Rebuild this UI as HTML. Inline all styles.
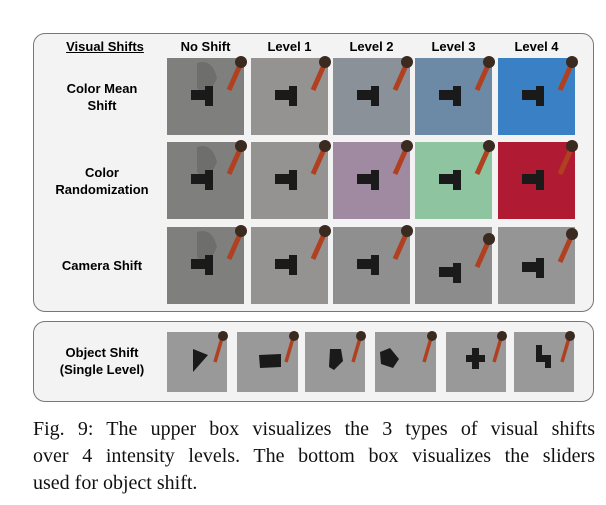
<!DOCTYPE html>
<html><head><style>
body{margin:0;width:606px;height:505px;background:#fff;position:relative;overflow:hidden;font-family:"Liberation Sans",sans-serif}
.box{position:absolute;border:1.5px solid #777;border-radius:12px;background:#f3f3f3}
.lbl{position:absolute;font-weight:bold;font-size:13px;text-align:center;color:#000;line-height:17px}
.cap{position:absolute;left:33px;font-family:"Liberation Serif",serif;font-size:20px;color:#111;line-height:27px;width:562px}
.cap div{text-align:justify;text-align-last:justify;white-space:nowrap}
.cap div.l{text-align-last:left}
</style></head><body>
<div class="box" style="left:33px;top:33px;width:559px;height:277px"></div>
<div class="box" style="left:33px;top:321px;width:559px;height:79px"></div>
<div class="lbl" style="left:50px;top:38px;width:110px;text-decoration:underline">Visual Shifts</div>
<div class="lbl" style="left:167px;top:38px;width:77px">No Shift</div>
<div class="lbl" style="left:251px;top:38px;width:77px">Level 1</div>
<div class="lbl" style="left:333px;top:38px;width:77px">Level 2</div>
<div class="lbl" style="left:415px;top:38px;width:77px">Level 3</div>
<div class="lbl" style="left:498px;top:38px;width:77px">Level 4</div>
<div class="lbl" style="left:40px;top:80px;width:124px">Color Mean<br>Shift</div>
<div class="lbl" style="left:40px;top:164px;width:124px">Color<br>Randomization</div>
<div class="lbl" style="left:40px;top:257px;width:124px">Camera Shift</div>
<div class="lbl" style="left:40px;top:344px;width:124px">Object Shift<br>(Single Level)</div>
<svg width="606" height="505" style="position:absolute;left:0;top:0">
<defs>
<g id="t"><rect x="24" y="32" width="18" height="10" fill="#1a1a1a"/><rect x="38" y="28" width="8" height="20" fill="#1a1a1a"/><line x1="62" y1="32" x2="74" y2="5" stroke="#b04020" stroke-width="5"/><circle cx="74" cy="4" r="6" fill="#3a2a20"/></g>
<g id="ts"><path d="M30 5 Q45 0 50 20 L40 40 L30 30 Z" fill="#555" opacity=".4"/></g>
<g id="s"><line x1="48" y1="30" x2="55" y2="6" stroke="#b04020" stroke-width="3.5"/><circle cx="56" cy="4" r="5" fill="#3a2a20"/></g>
</defs>
<rect x="167" y="58" width="77" height="77" fill="#7f7f7d"/><use href="#ts" x="167" y="58"/><use href="#t" x="167" y="58"/>
<rect x="251" y="58" width="77" height="77" fill="#959392"/><use href="#t" x="251" y="58"/>
<rect x="333" y="58" width="77" height="77" fill="#8a9198"/><use href="#t" x="333" y="58"/>
<rect x="415" y="58" width="77" height="77" fill="#6c8aa6"/><use href="#t" x="415" y="58"/>
<rect x="498" y="58" width="77" height="77" fill="#3a80c4"/><use href="#t" x="498" y="58"/>
<rect x="167" y="142" width="77" height="77" fill="#7f7f7d"/><use href="#ts" x="167" y="142"/><use href="#t" x="167" y="142"/>
<rect x="251" y="142" width="77" height="77" fill="#959392"/><use href="#t" x="251" y="142"/>
<rect x="333" y="142" width="77" height="77" fill="#a08aa2"/><use href="#t" x="333" y="142"/>
<rect x="415" y="142" width="77" height="77" fill="#8fc4a0"/><use href="#t" x="415" y="142"/>
<rect x="498" y="142" width="77" height="77" fill="#b01a32"/><use href="#t" x="498" y="142"/>
<rect x="167" y="227" width="77" height="77" fill="#7f7f7d"/><use href="#ts" x="167" y="227"/><use href="#t" x="167" y="227"/>
<rect x="251" y="227" width="77" height="77" fill="#959392"/><use href="#t" x="251" y="227"/>
<rect x="333" y="227" width="77" height="77" fill="#8f8f8f"/><use href="#t" x="333" y="227"/>
<rect x="415" y="227" width="77" height="77" fill="#8c8c8c"/><use href="#t" x="415" y="235"/>
<rect x="498" y="227" width="77" height="77" fill="#959595"/><use href="#t" x="498" y="230"/>
<g fill="#999">
<rect x="167" y="332" width="60" height="60"/><rect x="237" y="332" width="61" height="60"/><rect x="305" y="332" width="60" height="60"/>
<rect x="375" y="332" width="61" height="60"/><rect x="446" y="332" width="60" height="60"/><rect x="514" y="332" width="60" height="60"/>
</g>
<use href="#s" x="167" y="332"/><use href="#s" x="238" y="332"/><use href="#s" x="305" y="332"/>
<use href="#s" x="376" y="332"/><use href="#s" x="446" y="332"/><use href="#s" x="514" y="332"/>
<g fill="#1a1a1a">
<polygon points="193,349 208,355 193,372"/>
<polygon points="259,355 281,354 281,367 260,368"/>
<polygon points="330,349 341,349 343,361 334,370 329,367"/>
<polygon points="380,352 390,348 399,359 393,368 381,364"/>
<rect x="472" y="348" width="7" height="21"/><rect x="466" y="355" width="19" height="7"/>
<polygon points="536,345 542,345 542,355 551,355 551,368 545,368 545,362 536,362"/>
</g>
</svg>
<div class="cap" style="top:416px"><div>Fig. 9: The upper box visualizes the 3 types of visual shifts</div><div>over 4 intensity levels. The bottom box visualizes the sliders</div><div class="l">used for object shift.</div></div>
</body></html>
